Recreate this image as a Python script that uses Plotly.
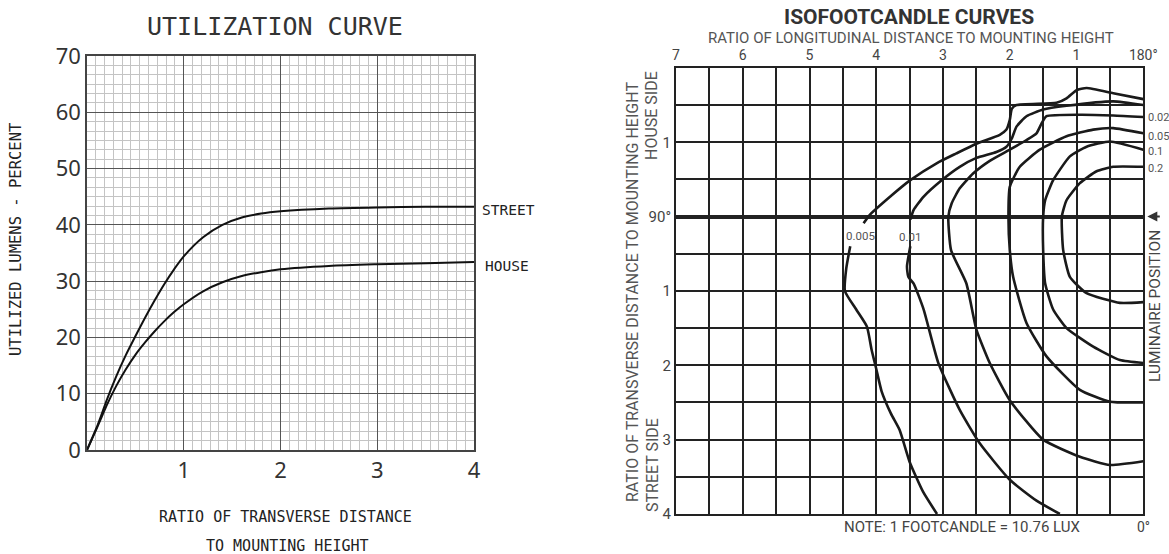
import plotly.graph_objects as go

W, H = 1169, 554

# ---- utilization curve (left) ----
util_x = [0, 0.05, 0.1, 0.15, 0.2, 0.3, 0.4, 0.5, 0.6, 0.7, 0.8, 0.9, 1.0,
          1.2, 1.4, 1.6, 1.8, 2.0, 2.5, 3.0, 3.5, 4.0]
street_y = [0, 2, 4, 6.3, 8.7, 13, 16.8, 20.2, 23.5, 26.6, 29.5, 32.1, 34.4,
            37.8, 40.0, 41.3, 42.0, 42.4, 42.9, 43.1, 43.2, 43.2]
house_y = [0, 1.9, 3.8, 5.8, 7.8, 11.3, 14.3, 16.9, 19.1, 21.1, 22.9, 24.5, 25.9,
           28.2, 29.8, 30.9, 31.6, 32.1, 32.7, 33.0, 33.2, 33.4]

# ---- isofootcandle curves (right) ----
# x = longitudinal ratio (7 .. 0), y = transverse ratio (+ house side, - street side)
fc005_up_x = [4.19, 4.10, 3.79, 3.49, 3.09, 2.80, 2.50, 2.15, 2.05, 2.0, 1.97, 1.9, 1.3, 1.15, 1.0, 0.85, 0.45, 0.0]
fc005_up_y = [-0.09, 0.02, 0.27, 0.49, 0.72, 0.85, 0.98, 1.10, 1.17, 1.30, 1.45, 1.50, 1.53, 1.59, 1.70, 1.73, 1.66, 1.58]
fc005_lo_x = [4.39, 4.45, 4.47, 4.30, 4.14, 4.07, 4.00, 3.92, 3.78, 3.65, 3.50, 3.30, 3.09]
fc005_lo_y = [-0.40, -0.70, -1.00, -1.25, -1.48, -1.79, -2.05, -2.35, -2.65, -2.87, -3.30, -3.70, -4.0]

fc01_up_x = [3.49, 3.44, 3.29, 3.02, 2.75, 2.50, 2.20, 2.05, 1.97, 1.9, 1.75, 1.5, 1.15, 0.45, 0.0]
fc01_up_y = [-0.04, 0.09, 0.27, 0.49, 0.67, 0.79, 0.87, 0.94, 1.05, 1.21, 1.35, 1.44, 1.49, 1.55, 1.50]
fc01_lo_x = [3.49, 3.54, 3.52, 3.44, 3.29, 3.07, 2.75, 2.45, 2.0, 1.6, 1.25]
fc01_lo_y = [-0.40, -0.67, -0.81, -0.90, -1.25, -1.97, -2.60, -3.05, -3.54, -3.82, -4.0]

fc02_x = [0.0, 0.45, 0.95, 1.45, 1.52, 1.6, 1.75, 2.0, 2.3, 2.55, 2.75, 2.87, 2.92, 2.88, 2.65, 2.5, 2.3, 2.0, 1.5, 0.95, 0.5, 0.0]
fc02_y = [1.34, 1.36, 1.37, 1.35, 1.26, 1.12, 1.03, 0.90, 0.75, 0.58, 0.38, 0.18, 0.0, -0.45, -0.90, -1.52, -1.97, -2.47, -3.0, -3.23, -3.34, -3.29]

fc05_x = [0.0, 0.45, 0.75, 1.15, 1.55, 1.85, 2.0, 2.02, 2.0, 1.95, 1.75, 1.45, 0.95, 0.5, 0.0]
fc05_y = [1.12, 1.19, 1.17, 1.08, 0.90, 0.67, 0.40, 0.0, -0.45, -0.81, -1.43, -1.88, -2.33, -2.49, -2.50]

fc1_x = [0.0, 0.5, 0.85, 1.10, 1.35, 1.47, 1.5, 1.5, 1.47, 1.35, 1.15, 0.75, 0.35, 0.0]
fc1_y = [0.90, 1.01, 0.94, 0.81, 0.49, 0.22, 0.0, -0.45, -0.90, -1.25, -1.50, -1.75, -1.93, -1.97]

fc2_x = [0.0, 0.45, 0.70, 0.95, 1.15, 1.22, 1.2, 1.10, 0.85, 0.35, 0.0]
fc2_y = [0.67, 0.67, 0.61, 0.45, 0.22, 0.0, -0.45, -0.81, -1.03, -1.16, -1.15]

iso_labels = ["0.02", "0.05", "0.1", "0.2"]
iso_label_y = [1.33, 1.08, 0.87, 0.65]

top_tick_vals = [7, 6, 5, 4, 3, 2, 1, 0]
top_tick_text = ["7", "6", "5", "4", "3", "2", "1", "180°"]
side_tick_vals = [1, 0, -1, -2, -3, -4]
side_tick_text = ["1", "90°", "1", "2", "3", "4"]

MONO = "DejaVu Sans Mono"
THIN = "Noto Sans"
NARROW = "Liberation Sans Narrow, Roboto, sans-serif"


def px(x):
    return x / W


def py(y):
    return 1 - y / H


fig = go.Figure()

for yy in (street_y, house_y):
    fig.add_trace(go.Scatter(x=util_x, y=yy, mode="lines", xaxis="x", yaxis="y",
                             line=dict(color="#111", width=2, shape="spline", smoothing=0.8),
                             showlegend=False, hoverinfo="skip"))

iso_curves = [(fc005_up_x, fc005_up_y), (fc005_lo_x, fc005_lo_y),
              (fc01_up_x, fc01_up_y), (fc01_lo_x, fc01_lo_y),
              (fc02_x, fc02_y), (fc05_x, fc05_y), (fc1_x, fc1_y), (fc2_x, fc2_y)]
for cx, cy in iso_curves:
    fig.add_trace(go.Scatter(x=cx, y=cy, mode="lines", xaxis="x2", yaxis="y2",
                             line=dict(color="#1a1a1a", width=2.6, shape="spline", smoothing=0.5),
                             showlegend=False, hoverinfo="skip"))

annotations = []


def note(text, x, y, size, font=MONO, color="#222", angle=0, xanchor="center", **kw):
    annotations.append(dict(text=text, x=px(x), y=py(y), xref="paper", yref="paper",
                            showarrow=False, textangle=angle, xanchor=xanchor, yanchor="middle",
                            font=dict(family=font, size=size, color=color), **kw))


# left chart texts
note("UTILIZATION CURVE", 275, 26, 25, color="#333")
note("UTILIZED LUMENS - PERCENT", 16, 240, 15.5, angle=-90)
note("RATIO OF TRANSVERSE DISTANCE", 285, 517, 15)
note("TO MOUNTING HEIGHT", 287, 546, 15)
note("STREET", 480, 210, 14.5, xanchor="left")
note("HOUSE", 483, 266, 14.5, xanchor="left")

# right chart texts
note("<b>ISOFOOTCANDLE CURVES</b>", 909, 17, 21, font=NARROW, color="#333")
note("RATIO OF LONGITUDINAL DISTANCE TO MOUNTING HEIGHT", 911, 38, 15, font=NARROW, color="#555")
note("RATIO OF TRANSVERSE DISTANCE TO MOUNTING HEIGHT", 632, 292, 16, font=NARROW, color="#555", angle=-90)
note("HOUSE SIDE", 652, 116, 16, font=NARROW, color="#555", angle=-90)
note("STREET SIDE", 652, 465, 16, font=NARROW, color="#555", angle=-90)
note("NOTE: 1 FOOTCANDLE = 10.76 LUX", 962, 527, 15, font=NARROW, color="#444")
note("0°", 1143, 527, 14, font=NARROW, color="#444")
note("LUMINAIRE POSITION", 1155, 306, 15.5, font=NARROW, color="#444", angle=-90)

for lab, ly in zip(iso_labels, iso_label_y):
    annotations.append(dict(text=lab, x=0, y=ly, xref="x2", yref="y2", xshift=3,
                            showarrow=False, xanchor="left", yanchor="middle",
                            font=dict(family=NARROW, size=11, color="#555")))

annotations.append(dict(text="0.005", x=4.24, y=-0.26, xref="x2", yref="y2", showarrow=False,
                        font=dict(family=NARROW, size=11.5, color="#555")))
annotations.append(dict(text="0.01", x=3.49, y=-0.28, xref="x2", yref="y2", showarrow=False,
                        font=dict(family=NARROW, size=11.5, color="#555")))

# luminaire arrow
annotations.append(dict(text="", x=0, y=0, xref="x2", yref="y2", ax=18, ay=0,
                        showarrow=True, arrowhead=2, arrowsize=1, arrowwidth=2,
                        arrowcolor="#333", standoff=4))

fig.update_layout(
    width=W, height=H,
    margin=dict(l=0, r=0, t=0, b=0),
    paper_bgcolor="white", plot_bgcolor="white",
    annotations=annotations,
    xaxis=dict(domain=[px(87), px(474)], range=[0, 4], anchor="y", automargin=False,
               tickvals=[1, 2, 3, 4], ticks="", showgrid=True, gridcolor="#555", gridwidth=1,
               minor=dict(dtick=1 / 11, tick0=0, showgrid=True, gridcolor="#c4c4c4", gridwidth=1),
               showline=True, mirror=True, linecolor="#444", linewidth=1.5, zeroline=False,
               tickfont=dict(family=THIN, size=22, color="#333"), fixedrange=True),
    yaxis=dict(domain=[py(450), py(56)], range=[0, 70], anchor="x", automargin=False,
               dtick=10, ticks="", showgrid=True, gridcolor="#555", gridwidth=1,
               minor=dict(dtick=10 / 6, tick0=0, showgrid=True, gridcolor="#c4c4c4", gridwidth=1),
               showline=True, mirror=True, linecolor="#444", linewidth=1.5, zeroline=False,
               tickfont=dict(family=THIN, size=22, color="#333"), fixedrange=True),
    xaxis2=dict(domain=[px(676), px(1143.3)], range=[7, 0], anchor="y2", side="top", automargin=False,
                tickvals=top_tick_vals, ticktext=top_tick_text, ticks="",
                showgrid=True, gridcolor="#222", gridwidth=2,
                minor=dict(dtick=0.5, tick0=0, showgrid=True, gridcolor="#222", gridwidth=2),
                showline=True, mirror=True, linecolor="#222", linewidth=2, zeroline=False,
                tickfont=dict(family=NARROW, size=14, color="#444"), fixedrange=True),
    yaxis2=dict(domain=[py(514), py(67.9)], range=[-4, 2], anchor="x2", automargin=False,
                tickvals=side_tick_vals, ticktext=side_tick_text, ticks="",
                showgrid=True, gridcolor="#222", gridwidth=2,
                minor=dict(dtick=0.5, tick0=0, showgrid=True, gridcolor="#222", gridwidth=2),
                showline=True, mirror=True, linecolor="#222", linewidth=2,
                zeroline=True, zerolinecolor="#222", zerolinewidth=3.5,
                tickfont=dict(family=NARROW, size=15, color="#444"), fixedrange=True),
)

# the page body has a default 8px margin; drop it so the figure fills the window
fig.write_html("out.html", config={"displayModeBar": False},
               post_script="document.body.style.margin='0';")
